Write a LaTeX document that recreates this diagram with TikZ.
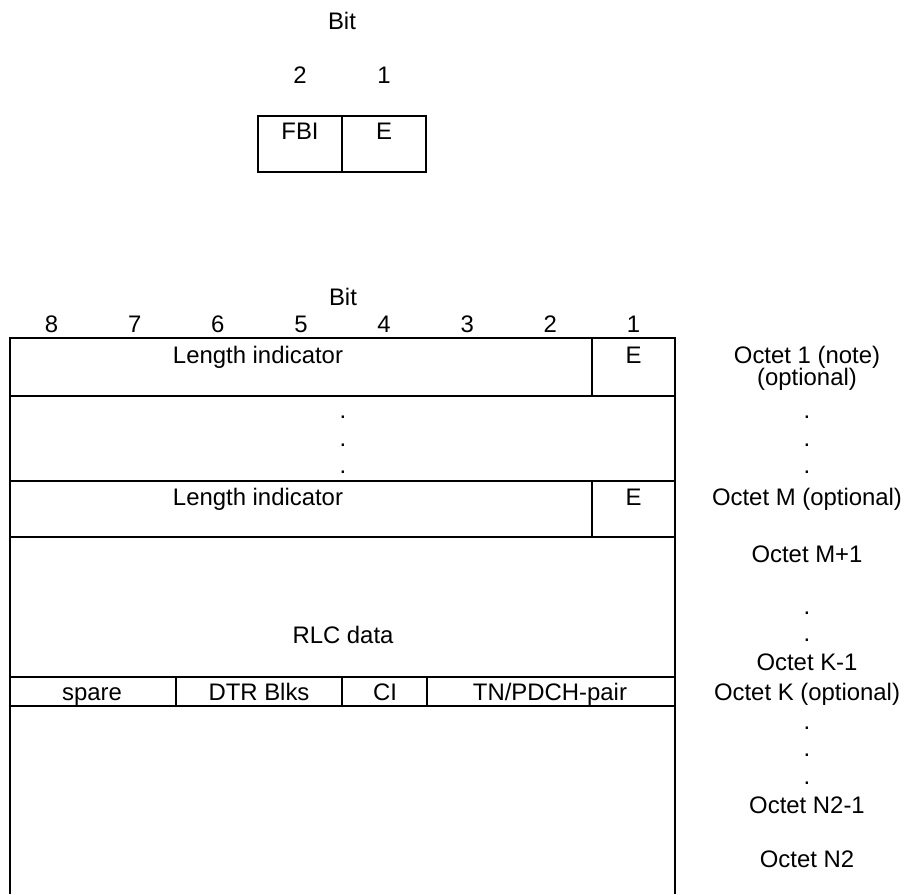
\documentclass[tikz,border=0pt]{standalone}
\usepackage{fontspec}
\setmainfont{Liberation Sans}
\usepackage{tikz}
\usetikzlibrary{positioning}

\begin{document}
\begin{tikzpicture}[
    x=0.2mm, y=-0.2mm,
    every node/.style={font=\fontsize{13.6}{16}\selectfont, inner sep=0pt, anchor=base},
    rule/.style={line width=1.1pt},
    octet/.style={anchor=base}
]
\useasboundingbox (0,0) rectangle (906,894);

% Header octet (FBI / E)
\node (hbit) at (342,29) {Bit};
\node (hb2) at (300,83) {2};
\node (hb1) at (384,83) {1};
\draw[rule] (258,116) rectangle (426,172);
\draw[rule] (342,116) -- (342,172);
\node (fbi) at (300,139) {FBI};
\node (he) at (384,139) {E};

% Bit numbering of the data block
\node (bit) at (343,305) {Bit};
\foreach \b in {1,...,8}
  \node (b\b) at ({633.5-83.125*(\b-1)},332) {\b};

% Frame (open at the bottom)
\draw[rule] (10,894) -- (10,338) -- (675,338) -- (675,894);
\foreach \y in {396,481,537,677,706}
  \draw[rule] (10,\y) -- (675,\y);
\draw[rule] (592,338) -- (592,396);
\draw[rule] (592,481) -- (592,537);
\foreach \x in {176,342,427}
  \draw[rule] (\x,677) -- (\x,706);

% Field texts
\node (li1) at (258,363) {Length indicator};
\node (e1) at (633.5,363) {E};
\foreach \y [count=\i] in {418,446,473}
  \node (d\i) at (343,\y) {.};
\node (lim) at (258,505) {Length indicator};
\node (em) at (633.5,505) {E};
\node (rlc) at (343,643) {RLC data};
\node (spare) at (92,700) {spare};
\node (dtr) at (259,700) {DTR Blks};
\node (ci) at (385,700) {CI};
\node (tn) at (550,700) {TN/PDCH-pair};

% Octet labels
\node[octet] (o1) at (807,363) {Octet 1 (note)};
\node[octet] (o1opt) at (807,385) {(optional)};
\foreach \y [count=\i] in {418,446,473}
  \node[octet] (od\i) at (807,\y) {.};
\node[octet] (om) at (807,505) {Octet M (optional)};
\node[octet] (om1) at (807,562) {Octet M+1};
\foreach \y [count=\i] in {614,641}
  \node[octet] (oe\i) at (807,\y) {.};
\node[octet] (ok1) at (807,670) {Octet K-1};
\node[octet] (ok) at (807,700) {Octet K (optional)};
\foreach \y [count=\i] in {729,756,784}
  \node[octet] (of\i) at (807,\y) {.};
\node[octet] (on1) at (807,813) {Octet N2-1};
\node[octet] (on) at (807,867) {Octet N2};

\end{tikzpicture}
\end{document}
